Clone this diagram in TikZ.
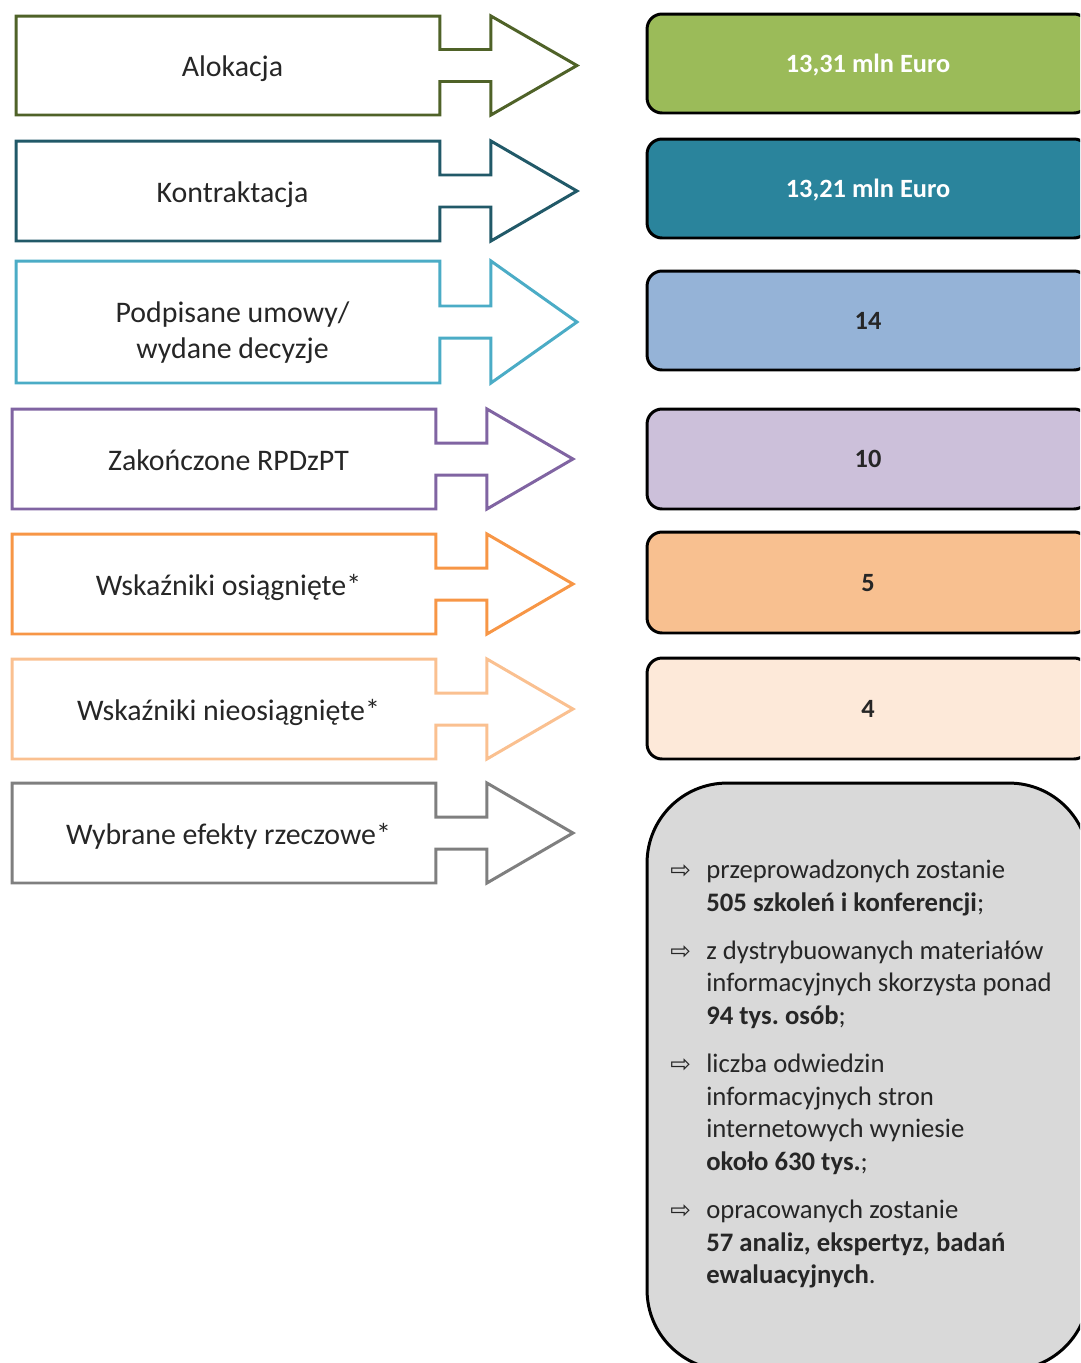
\documentclass[tikz,border=0pt]{standalone}
\usepackage{fontspec}
\setmainfont{Carlito}
\newfontfamily\arrowfont{DejaVu Sans}
\usepackage{tikz}
\usetikzlibrary{calc,positioning}
\frenchspacing

\definecolor{olivedk}{HTML}{4F6228}
\definecolor{tealdk}{HTML}{215968}
\definecolor{cyanl}{HTML}{4BACC6}
\definecolor{purp}{HTML}{8064A2}
\definecolor{orng}{HTML}{F79646}
\definecolor{orngl}{HTML}{FAC090}
\definecolor{gry}{HTML}{7F7F7F}
\definecolor{grnfill}{HTML}{9BBB59}
\definecolor{tealfill}{HTML}{2A849C}
\definecolor{blufill}{HTML}{95B3D7}
\definecolor{lilfill}{HTML}{CCC0DA}
\definecolor{pchfill}{HTML}{F8C090}
\definecolor{crmfill}{HTML}{FDE9D9}
\definecolor{gryfill}{HTML}{D9D9D9}
\definecolor{txtdark}{HTML}{262626}

\newcommand{\effarrow}{\makebox[0.72cm][l]{\arrowfont\fontsize{14}{14}\selectfont ⇨}}
\newcommand{\effind}{\hspace*{0.72cm}}

\begin{document}
\begin{tikzpicture}[x=0.02cm, y=-0.02cm,
    lab/.style={rectangle, minimum width=8.48cm, minimum height=1.98cm, inner sep=0pt, outer sep=0pt, align=center, text=txtdark, text height=17pt, text depth=4pt, font=\fontsize{17}{20.4}\selectfont},
    outline/.style={line width=1.7pt, line join=miter},
    valbox/.style={rectangle, draw=black, line width=1.7pt, rounded corners=0.3cm, minimum width=8.84cm, minimum height=1.98cm, text=txtdark, text height=11.2pt, text depth=1pt, font=\bfseries\fontsize{15}{18}\selectfont},
    effbox/.style={rectangle, draw=black, line width=1.7pt, rounded corners=1.6cm, fill=gryfill, minimum width=8.84cm, minimum height=11.74cm},
    efftext/.style={anchor=west, align=left, inner sep=0pt, text=txtdark, font=\fontsize{15.2}{18.5}\selectfont}]

\clip (0,0) rectangle (1080,1363);

% Left side: labels (text sits a little right of the box centre)
\node[lab] (alok) at (232.5,65.5) {Alokacja};
\node[lab, minimum height=2cm] (kontr) at (232.5,191) {Kontraktacja};
\node[lab, minimum height=2.44cm, text height=45.2pt] (podp) at (232.5,322) {Podpisane umowy/\\wydane decyzje};
\node[lab, minimum height=2cm] (zak) at (228.5,459) {Zakończone RPDzPT};
\node[lab, minimum height=2cm] (wskos) at (228.5,584) {Wskaźniki osiągnięte*};
\node[lab, minimum height=2cm] (wskno) at (228.5,709) {Wskaźniki nieosiągnięte*};
\node[lab, minimum height=2cm] (efekt) at (228.5,833) {Wybrane efekty rzeczowe*};

% Left side: arrow outlines
\foreach \nm/\col in {alok/olivedk, kontr/tealdk, podp/cyanl, zak/purp, wskos/orng, wskno/orngl, efekt/gry} {
  \path ($(\nm.north west)+(-4.5,0)$) coordinate (nw) ($(\nm.north east)+(-4.5,0)$) coordinate (ne)
    ($(\nm.east)+(-4.5,0)$) coordinate (e) ($(\nm.south east)+(-4.5,0)$) coordinate (se)
    ($(\nm.south west)+(-4.5,0)$) coordinate (sw);
  \draw[outline, \col] (nw) -- (ne) -- ($(e)+(0,-16)$) -- ++(51,0) -- ($(ne)+(51,0)$)
    -- ($(e)+(137,0)$) -- ($(se)+(51,0)$) -- ($(e)+(51,16)$) -- ++(-51,0)
    -- (se) -- (sw) -- cycle;
}

% Right side: values
\node[valbox, fill=grnfill, text=white] (alokval) at (868,63.5) {13,31 mln Euro};
\node[valbox, fill=tealfill, text=white] (kontrval) at (868,188.5) {13,21 mln Euro};
\node[valbox, fill=blufill] (podpval) at (868,320.5) {14};
\node[valbox, fill=lilfill, minimum height=2cm] (zakval) at (868,459) {10};
\node[valbox, fill=pchfill, minimum height=2.02cm] (wskosval) at (868,582.5) {5};
\node[valbox, fill=crmfill, minimum height=2.02cm] (wsknoval) at (868,708.5) {4};

% Right side: effects
\node[effbox] (effval) at (868,1076.5) {};
\node[efftext] (efflist) at (670,1074) {%
  \effarrow przeprowadzonych zostanie\\
  \effind\textbf{505 szkoleń i konferencji};\\[9pt]
  \effarrow z dystrybuowanych materiałów\\
  \effind informacyjnych skorzysta ponad\\
  \effind\textbf{94 tys. osób};\\[9pt]
  \effarrow liczba odwiedzin\\
  \effind informacyjnych stron\\
  \effind internetowych wyniesie\\
  \effind\textbf{około 630 tys.};\\[9pt]
  \effarrow opracowanych zostanie\\
  \effind\textbf{57 analiz, ekspertyz, badań}\\
  \effind\textbf{ewaluacyjnych}.};

\end{tikzpicture}
\end{document}
